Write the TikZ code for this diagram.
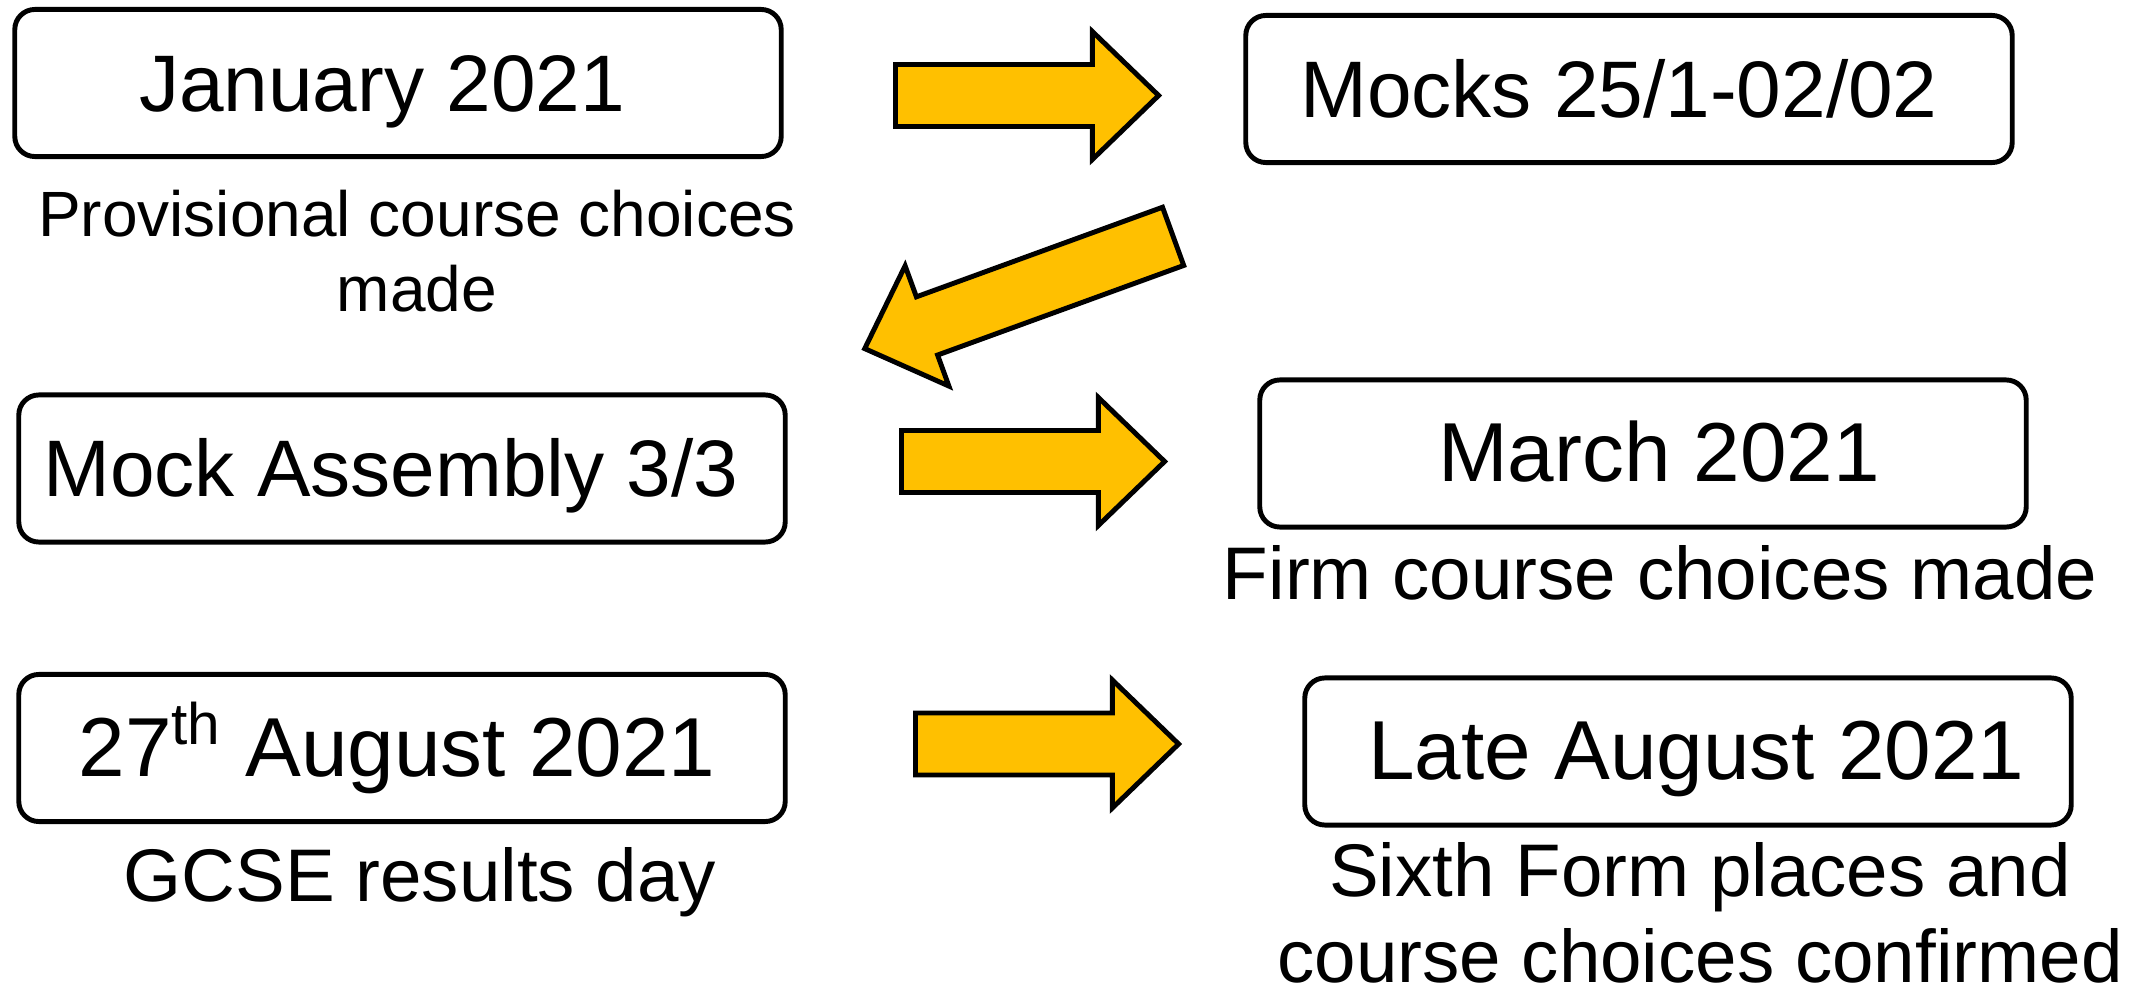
\documentclass[tikz,border=0pt]{standalone}
\usepackage{fontspec}
\setmainfont{Liberation Sans}
\usetikzlibrary{shapes.arrows}
\definecolor{arrowgold}{HTML}{FFC000}

\begin{document}
\begin{tikzpicture}[x=0.01cm,y=-0.01cm]
        \tikzstyle{date box}=[draw,line width=1.4pt,rounded corners=5.7pt,minimum width=7.66cm,minimum height=1.47cm,inner sep=0pt,text height=16.2pt,text depth=0pt,font=\fontsize{22.8pt}{27pt}\selectfont]
        \tikzstyle{big date}=[font=\fontsize{23.8pt}{28pt}\selectfont]
        \tikzstyle{block arrow}=[draw,line width=1.4pt,fill=arrowgold,single arrow,single arrow head extend=0.33cm,single arrow tip angle=88,inner xsep=0pt,inner ysep=0.285cm,minimum width=0pt,minimum height=2.63cm]
        \tikzstyle{note}=[align=center,inner sep=0pt,anchor=base,font=\fontsize{21.2pt}{24.2pt}\selectfont]
        \useasboundingbox (0,0) rectangle (2141,991);

        % dates
        \node[date box] (jan) at (398,83) {January 2021\hspace*{0.32cm}};
        \node[date box] (mocks) at (1629,89) {Mocks 25/1-02/02\hspace*{0.2cm}};
        \node[date box] (assembly) at (402,468.5) {Mock Assembly 3/3\hspace*{0.22cm}};
        \node[date box,big date] (march) at (1643,453.5) {\hspace*{0.32cm}March 2021};
        \node[date box,big date] (results) at (402,748) {27\textsuperscript{th} August 2021\hspace*{0.1cm}};
        \node[date box,big date] (late) at (1688,751.5) {\hspace*{0.17cm}Late August 2021};

        % what happens (base = last line)
        \node[note,font=\fontsize{18.2pt}{21.3pt}\selectfont] (provisional) at (417,311.7) {Provisional course choices\\made};
        \node[note] (firm) at (1660,600) {Firm course choices made};
        \node[note] (gcse) at (420,901.7) {GCSE results day};
        \node[note] (sixth) at (1700,982) {Sixth Form places and\\course choices confirmed};

        % arrows
        \node[block arrow] (jantomocks) at (1011,95.5) {};
        \node[block arrow,minimum height=3.28cm,rotate=200] (mockstoassembly) at (1034,287) {};
        \node[block arrow] (assemblytomarch) at (1017,461.5) {};
        \node[block arrow] (resultstolate) at (1031,744) {};
    \end{tikzpicture}
\end{document}
